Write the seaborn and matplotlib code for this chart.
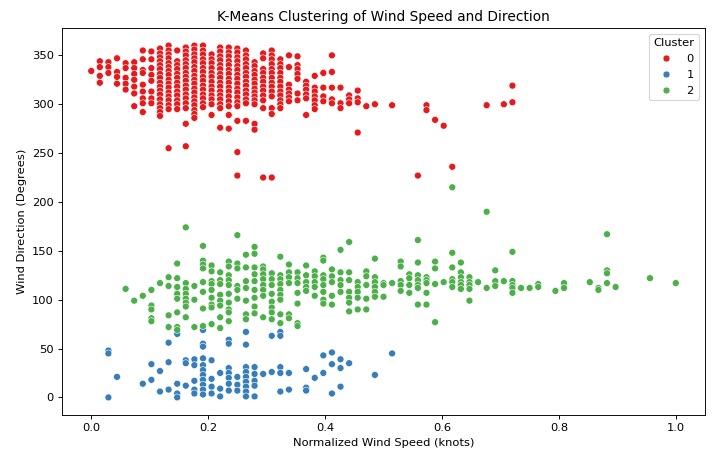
import matplotlib
matplotlib.use("Agg")
import matplotlib.pyplot as plt
import seaborn as sns
import pandas as pd

# Raw wind speed steps (normalized by the maximum, 68) and directions (degrees), per cluster
max_speed = 68

red_cols = [
    (0, [334]),
    (1, [344, 338, 329, 322]),
    (2, [343, 338, 332]),
    (3, [347, 333, 328, 321]),
    (4, [342, 337, 327, 321, 315]),
    (5, [343, 337, 331, 325, 318, 311, 298]),
    (6, [355, 346, 335, 332, 320, 313, 306, 301, 292]),
    (7, [354, 346, 337, 330, 324, 313, 306, 301]),
    (8, [357, 352, 348, 344, 340, 336, 331, 327, 322, 318, 314, 310, 305, 300, 296, 292, 288]),
    (9, [360, 355, 351, 347, 342, 338, 334, 330, 325, 321, 317, 312, 308, 304, 299, 295, 255]),
    (10, [355, 344, 340, 336, 331, 327, 322, 318, 313, 309, 304, 300, 295]),
    (11, [358, 354, 350, 345, 341, 337, 332, 328, 324, 319, 315, 310, 306, 301, 296, 280, 257]),
    (12, [360, 356, 351, 347, 343, 338, 334, 329, 325, 321, 316, 312, 307, 303, 299, 294, 290, 286]),
    (13, [360, 355, 351, 346, 342, 337, 333, 328, 324, 319, 315, 310, 306, 301, 297]),
    (14, [351, 346, 342, 337, 332, 328, 323, 318, 314, 309, 305, 300, 289]),
    (15, [358, 354, 349, 345, 340, 336, 331, 327, 322, 318, 313, 309, 305, 300, 296, 276]),
    (16, [358, 353, 349, 344, 340, 335, 331, 326, 322, 317, 313, 308, 303, 298, 289, 275]),
    (17, [357, 353, 348, 344, 339, 335, 330, 326, 321, 316, 312, 307, 302, 298, 283, 251, 227]),
    (18, [355, 350, 346, 341, 337, 332, 328, 323, 319, 314, 310, 305, 301, 283]),
    (19, [343, 339, 334, 330, 325, 321, 316, 312, 308, 304, 300, 280, 274]),
    (20, [352, 347, 336, 332, 327, 323, 318, 314, 309, 304, 296, 225]),
    (21, [355, 350, 346, 341, 336, 332, 327, 322, 318, 313, 308, 296, 290, 225]),
    (22, [346, 341, 337, 332, 327, 323, 318, 313, 309, 304, 300, 296]),
    (23, [350, 338, 320, 315, 311, 307, 303]),
    (24, [349, 340, 336, 331, 326, 311, 304]),
    (25, [323, 319, 315, 310, 306, 289]),
    (26, [329, 317, 313, 308, 304, 299, 295]),
    (27, [332, 317, 308, 303]),
    (28, [350, 333, 317, 305, 301]),
    (29, [317, 301, 296]),
    (30, [309, 305, 301]),
    (31, [314, 306, 302, 271]),
    (32, [298]),
    (33, [300]),
    (35, [299]),
    (38, [227]),
    (39, [299, 294]),
    (40, [284]),
    (41, [278]),
    (42, [236]),
    (46, [299]),
    (48, [300]),
    (49, [302, 319]),
]

blue_cols = [
    (2, [48, 45, 0]),
    (3, [21]),
    (6, [14]),
    (7, [34, 18]),
    (8, [27, 6]),
    (9, [56, 36, 8]),
    (10, [65, 14, 4, 0]),
    (11, [38, 35, 12]),
    (12, [39, 33, 17, 8, 4]),
    (13, [69, 55, 52, 40, 33, 28, 23, 18, 13, 8, 3]),
    (14, [38, 19, 11, 4]),
    (15, [25, 9, 1]),
    (16, [59, 55, 30, 25, 20, 14, 7]),
    (17, [21, 13, 7]),
    (18, [67, 54, 31, 26, 21, 16, 11, 6, 1]),
    (19, [31, 24, 17, 12, 1]),
    (20, [24]),
    (21, [63, 26]),
    (22, [67, 63, 31, 25, 6]),
    (23, [25, 8]),
    (25, [29, 10, 7]),
    (26, [20]),
    (27, [43, 25]),
    (28, [46, 34, 4]),
    (29, [39, 30, 11]),
    (30, [35]),
    (33, [23]),
    (35, [45]),
]

green_cols = [
    (4, [111]),
    (5, [99]),
    (6, [104]),
    (7, [110, 94, 90, 81, 78]),
    (8, [117]),
    (9, [123, 114, 84, 72]),
    (10, [137, 122, 113, 106, 101, 87, 72, 69]),
    (11, [174, 117, 111, 106, 101, 97, 93, 82]),
    (12, [114, 100, 72]),
    (13, [155, 140, 136, 132, 118, 108, 91, 73]),
    (14, [135, 129, 119, 116, 110, 102, 95, 92, 75]),
    (15, [128, 120, 116, 105, 99, 94, 82, 71]),
    (16, [139, 134, 125, 120, 115, 106, 97, 90, 87, 78]),
    (17, [166, 137, 132, 114, 110, 101]),
    (18, [146, 133, 119, 112, 99, 85, 80]),
    (19, [154, 147, 133, 126, 119, 110, 102, 93, 86]),
    (20, [134, 131, 126, 121, 115, 110, 104, 82]),
    (21, [127, 121, 115, 106, 98, 92, 87, 80]),
    (22, [144, 125, 121, 116, 110, 105, 100, 85, 76]),
    (23, [136, 128, 123, 117, 85, 81]),
    (24, [128, 122, 117, 107, 96, 76, 73]),
    (25, [135, 125, 118, 113, 109]),
    (26, [129, 124, 118, 113, 104]),
    (27, [143, 140, 125, 121, 115, 108, 100, 96]),
    (28, [131, 124, 118, 104, 95]),
    (29, [151, 128, 120, 115, 108]),
    (30, [159, 128, 120, 108, 102, 97, 88]),
    (31, [118, 113, 108, 102, 90]),
    (32, [129, 124, 115, 101, 90]),
    (33, [142, 123, 118, 113, 108, 103]),
    (34, [117, 115, 103]),
    (35, [117]),
    (36, [139, 134, 119, 115, 109]),
    (37, [126, 122, 115, 107]),
    (38, [161, 138, 125, 120, 115, 112, 95]),
    (39, [123, 120, 117, 107, 95]),
    (40, [139, 132, 116, 77]),
    (41, [118]),
    (42, [215, 148, 133, 121, 118, 113]),
    (43, [138, 128, 123, 118, 115, 111]),
    (44, [123, 118, 115, 111, 99]),
    (45, [118]),
    (46, [190, 112]),
    (47, [130, 119, 114]),
    (48, [119]),
    (49, [149, 119, 115, 112, 107]),
    (50, [112]),
    (51, [112]),
    (52, [116, 113]),
    (54, [109]),
    (55, [117, 112]),
    (58, [118]),
    (59, [112, 110]),
    (60, [167, 130, 127, 117]),
    (61, [113]),
    (65, [122]),
    (68, [117]),
]

clusters = ["0", "1", "2"]
palette_colors = sns.color_palette("Set1", 3)

rows = []
for label, cols in zip(clusters, [red_cols, blue_cols, green_cols]):
    for k, dirs in cols:
        for d in dirs:
            rows.append({"speed": k / max_speed, "direction": d, "Cluster": label})
df = pd.DataFrame(rows)

DPI = 82.7
fig = plt.figure(figsize=(713 / DPI, 454 / DPI), dpi=DPI)
ax = fig.add_axes([62 / 713, 1 - 415 / 454, (705 - 62) / 713, (415 - 28) / 454])
sns.scatterplot(data=df, x="speed", y="direction", hue="Cluster",
                hue_order=clusters, palette=palette_colors, s=36, ax=ax)
ax.set_title("K-Means Clustering of Wind Speed and Direction")
ax.set_xlabel("Normalized Wind Speed (knots)")
ax.set_ylabel("Wind Direction (Degrees)")
ax.legend(title="Cluster", loc="upper right")
fig.savefig("out.png", dpi=DPI)
